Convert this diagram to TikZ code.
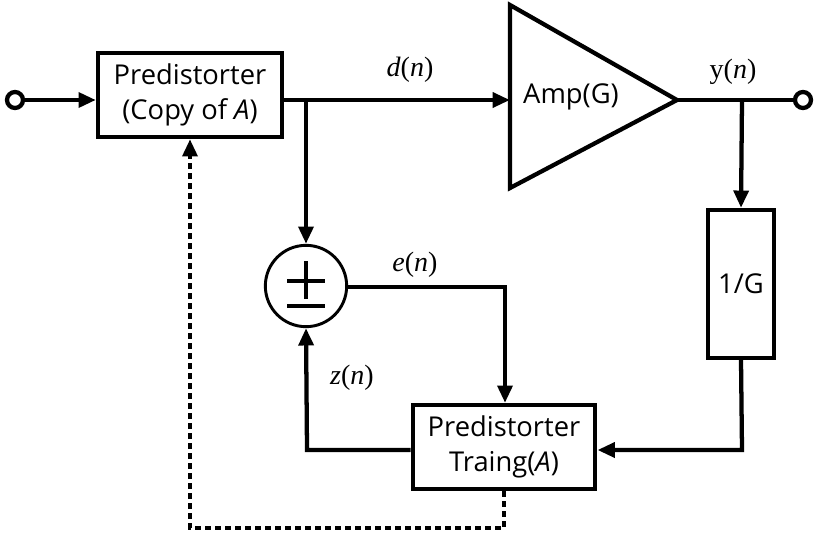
\documentclass[tikz,border=0pt]{standalone}
\usepackage{fontspec}
\setmainfont{Open Sans}
\newfontfamily\lbl{Liberation Serif}
\usetikzlibrary{arrows.meta}
\tikzset{
  px/.style={x=0.75pt,y=-0.75pt},
  wire/.style={line width=3.2pt},
  arr/.style={wire,-{Triangle[length=13pt,width=11pt]}},
  blk/.style={draw,line width=3.2pt,fill=white,inner sep=0pt,align=center,font=\fontsize{20.5}{26}\selectfont},
  sig/.style={font=\lbl\fontsize{21}{24}\selectfont,inner sep=0pt},
  term/.style={circle,draw,line width=3.2pt,fill=white,minimum size=12pt,inner sep=0pt},
}
\begin{document}
\begin{tikzpicture}[px]
\useasboundingbox (0,0) rectangle (816,536);
% nodes
\node[term] (in) at (15,100) {};
\node[term] (out) at (803,100) {};
\node[blk,minimum width=138pt,minimum height=63pt] (pre) at (190,95) {Predistorter\\(Copy of \textit{A})};
\node[blk,minimum width=137pt,minimum height=63pt] (tr) at (504,447) {Predistorter\\Traing(\textit{A})};
\node[blk,minimum width=50pt,minimum height=111pt] (g) at (741,284) {1/G};
\node[draw,circle,line width=2.2pt,minimum size=61pt,inner sep=0pt] (sum) at (306,286) {};
\draw[line width=3.2pt] (287,281) -- (325,281) (306,261) -- (306,299) (287,306) -- (325,306);
% amplifier
\coordinate (aTL) at (510,5);
\coordinate (aBL) at (510,188);
\coordinate (aTip) at (677,100);
\draw[line width=3.2pt,line join=miter] (aTL) -- (aTip) -- (aBL) -- cycle;
\node[font=\fontsize{20.5}{26}\selectfont] (amp) at (571,97) {Amp(G)};
\coordinate (aIn) at (510,100);
% junctions
\coordinate (jd) at (306,100);
\coordinate (jy) at (742,100);
\coordinate (c1) at (742,450);
\coordinate (c2) at (307,450);
\coordinate (c3) at (505,287);
\coordinate (d1) at (504,528);
\coordinate (d2) at (190,528);
% connectors
\draw[arr] (in.east) -- (pre.west |- in.east);
\draw[arr] (pre.east |- aIn) -- (aIn);
\draw[wire] (aTip) -- (out.west);
\draw[arr] (jd) -- (sum.north);
\draw[arr] (jy) -- (g.north);
\draw[arr] (g.south) -- (c1) -- (tr.east |- c1);
\draw[arr] (tr.west |- c2) -- (c2) -- (sum.south);
\draw[arr] (sum.east |- c3) -- (c3) -- (tr.north -| c3);
\draw[arr,dash pattern=on 4.5pt off 3pt] (tr.south) -- (d1) -- (d2) -- (pre.south -| d2);
% labels
\node[sig] (ld) at (410,70) {\textit{d}(\textit{n})};
\node[sig] (ly) at (733,72) {y(\textit{n})};
\node[sig] (le) at (415,265) {\textit{e}(\textit{n})};
\node[sig] (lz) at (352,378) {\textit{z}(\textit{n})};
\end{tikzpicture}
\end{document}
